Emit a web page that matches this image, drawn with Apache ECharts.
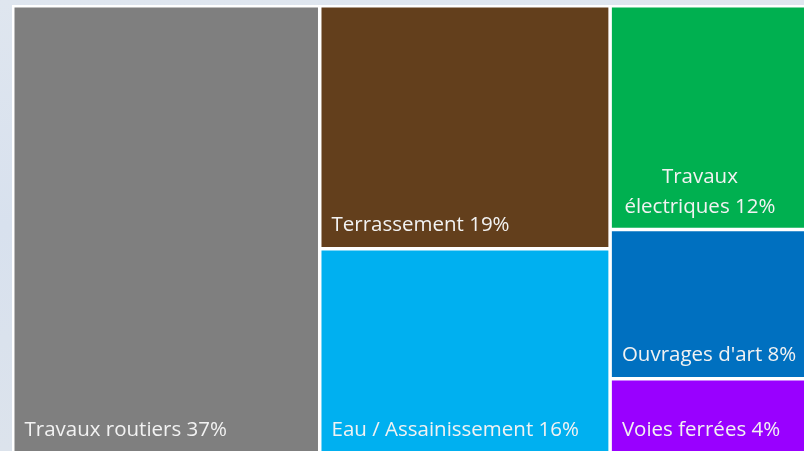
<!DOCTYPE html>
<html>
<head>
<meta charset="utf-8">
<script src="https://cdn.jsdelivr.net/npm/echarts@6/dist/echarts.min.js"></script>
<style>
html,body{margin:0;padding:0;}
body{width:804px;height:451px;overflow:hidden;background:linear-gradient(180deg,#dfe6ef 0%,#d8e1ee 50%,#dce3ec 100%);}
#chart{width:804px;height:451px;}
</style>
</head>
<body>
<div id="chart"></div>
<script>
const categories = ['Travaux routiers', 'Terrassement', 'Eau / Assainissement', 'Travaux électriques', "Ouvrages d'art", 'Voies ferrées'];
const shares = [37, 19, 16, 12, 8, 4];
const colors = ['#7f7f7f', '#633f1c', '#00b0f0', '#00b050', '#0070c0', '#9900ff'];

const chart = echarts.init(document.getElementById('chart'), null, {renderer: 'canvas'});

const baseLabel = {
  show: true,
  position: [10, '100%'],
  verticalAlign: 'bottom',
  align: 'left',
  offset: [0, -11],
  padding: 0,
  color: '#f2f2f2',
  fontFamily: 'Open Sans',
  fontSize: 20.5,
  overflow: 'none',
  formatter: p => p.name + ' ' + p.value + '%'
};

const data = categories.map((name, i) => {
  const item = {name: name, value: shares[i], itemStyle: {color: colors[i]}};
  if (i === 3) {
    item.label = {
      position: [88, '100%'],
      align: 'center',
      lineHeight: 30,
      offset: [0, -6],
      formatter: p => 'Travaux\nélectriques ' + p.value + '%'
    };
  }
  return item;
});

chart.setOption({
  animation: false,
  series: [{
    type: 'treemap',
    left: 12,
    top: 5,
    width: 798,
    height: 449,
    roam: false,
    nodeClick: false,
    squareRatio: 1,
    breadcrumb: {show: false},
    sort: 'desc',
    label: baseLabel,
    upperLabel: {show: false},
    levels: [
      {itemStyle: {borderColor: '#ffffff', borderWidth: 2.5, gapWidth: 3.5}},
      {itemStyle: {borderWidth: 0, gapWidth: 0}}
    ],
    data: data
  }]
});
</script>
</body>
</html>
